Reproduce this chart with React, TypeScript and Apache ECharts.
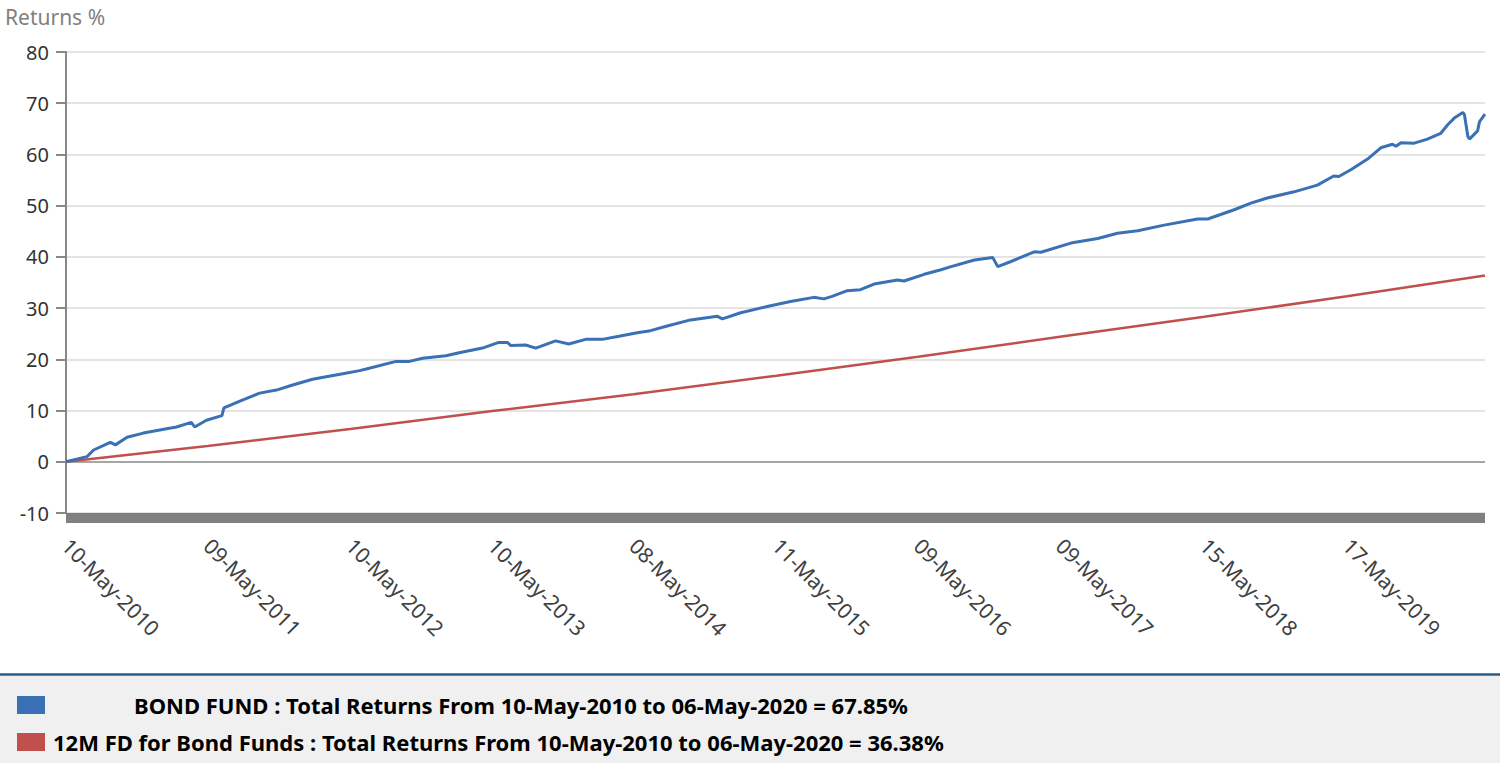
import React, { useEffect, useRef } from 'react';
import * as echarts from 'echarts';

const FONT = '"Noto Sans", "Open Sans", sans-serif';

// readings of the bond fund cumulative return (%)
const bondDates = [
  '2010-05-10', '2010-07-03', '2010-07-20', '2010-09-01', '2010-09-14', '2010-10-14', '2010-11-25',
  '2011-01-06', '2011-02-18', '2011-03-28', '2011-04-06', '2011-05-06', '2011-06-15', '2011-06-20',
  '2011-08-08', '2011-09-20', '2011-11-02', '2011-12-14', '2012-02-03', '2012-03-09', '2012-04-21',
  '2012-06-03', '2012-06-20', '2012-09-05', '2012-10-09', '2012-11-12', '2013-01-11', '2013-02-14',
  '2013-04-15', '2013-05-27', '2013-06-18', '2013-06-27', '2013-08-04', '2013-08-30', '2013-10-20',
  '2013-11-23', '2014-01-05', '2014-02-17', '2014-04-01', '2014-05-18', '2014-06-21', '2014-08-03',
  '2014-10-02', '2014-12-10', '2014-12-23', '2015-02-08', '2015-04-17', '2015-06-16', '2015-08-15',
  '2015-09-10', '2015-10-01', '2015-11-09', '2015-12-13', '2016-01-17', '2016-03-17', '2016-04-03',
  '2016-05-25', '2016-07-07', '2016-08-02', '2016-10-01', '2016-11-17', '2016-11-30', '2017-01-03',
  '2017-03-04', '2017-03-21', '2017-06-06', '2017-08-14', '2017-10-04', '2017-11-25', '2018-02-01',
  '2018-04-28', '2018-05-24', '2018-07-31', '2018-09-12', '2018-10-24', '2019-01-01', '2019-03-02',
  '2019-04-13', '2019-04-26', '2019-05-27', '2019-07-09', '2019-08-12', '2019-09-11', '2019-09-20',
  '2019-10-03', '2019-11-06', '2019-12-10', '2020-01-13', '2020-01-31', '2020-02-17', '2020-03-10',
  '2020-03-14', '2020-03-23', '2020-03-27', '2020-04-17', '2020-04-22', '2020-05-06',
];
const bondReturns = [
  0, 1.0, 2.3, 3.8, 3.3, 4.8, 5.6,
  6.2, 6.8, 7.7, 6.8, 8.1, 9.0, 10.5,
  12.1, 13.4, 14.0, 15.0, 16.1, 16.6, 17.2,
  17.8, 18.1, 19.6, 19.6, 20.2, 20.7, 21.3,
  22.2, 23.3, 23.3, 22.7, 22.8, 22.2, 23.6,
  23.0, 23.9, 23.9, 24.5, 25.2, 25.6, 26.5,
  27.7, 28.4, 27.9, 29.1, 30.3, 31.3, 32.1,
  31.8, 32.3, 33.4, 33.6, 34.7, 35.5, 35.3,
  36.6, 37.5, 38.1, 39.4, 39.9, 38.1, 39.1,
  41.0, 40.9, 42.7, 43.6, 44.6, 45.1, 46.2,
  47.4, 47.4, 49.2, 50.5, 51.5, 52.7, 54.0,
  55.8, 55.7, 57.0, 59.1, 61.3, 62.0, 61.6,
  62.3, 62.2, 63.0, 64.1, 65.8, 67.1, 68.2,
  67.8, 63.5, 63.0, 64.6, 66.4, 67.85,
];

const fdDates = [
  '2010-05-10', '2011-05-09', '2012-05-10', '2013-05-10', '2014-05-08', '2015-05-11',
  '2016-05-09', '2017-05-09', '2018-05-15', '2019-05-17', '2020-05-06',
];
const fdReturns = [0, 3.1, 6.4, 9.9, 13.2, 16.8, 20.5, 24.4, 28.3, 32.3, 36.38];

const tickDates = [
  '2010-05-10', '2011-05-09', '2012-05-10', '2013-05-10', '2014-05-08',
  '2015-05-11', '2016-05-09', '2017-05-09', '2018-05-15', '2019-05-17',
];

const seriesNames = ['BOND FUND', '12M FD for Bond Funds'];
const seriesColors = ['#3a70b4', '#c0504d'];
const totalReturns = ['67.85', '36.38'];
const periodStart = '10-May-2010';
const periodEnd = '06-May-2020';

const MONTHS = ['Jan', 'Feb', 'Mar', 'Apr', 'May', 'Jun', 'Jul', 'Aug', 'Sep', 'Oct', 'Nov', 'Dec'];

function toTime(s: string): number {
  const [y, m, d] = s.split('-').map(Number);
  return new Date(y, m - 1, d).getTime();
}

function fmtDate(v: number): string {
  const d = new Date(v);
  const dd = String(d.getDate()).padStart(2, '0');
  return `${dd}-${MONTHS[d.getMonth()]}-${d.getFullYear()}`;
}

export default function App() {
  const chartRef = useRef<HTMLDivElement | null>(null);

  useEffect(() => {
    if (!chartRef.current) return;
    const inst = echarts.init(chartRef.current, undefined, { renderer: 'svg' });
    inst.setOption({
      animation: false,
      backgroundColor: '#ffffff',
      textStyle: { fontFamily: FONT },
      title: {
        text: 'Returns %',
        left: 0,
        top: 1,
        textStyle: { fontFamily: FONT, fontSize: 21, fontWeight: 'normal', color: '#7f7f7f' },
      },
      grid: { left: 66, right: 15, top: 52, bottom: 250 },
      graphic: [
        {
          type: 'rect',
          shape: { x: 0, y: 676, width: 1500, height: 87 },
          style: { fill: '#f0f0f0' },
          silent: true,
          z: -1,
        },
        {
          type: 'line',
          shape: { x1: 0, y1: 674.5, x2: 1500, y2: 674.5 },
          style: { stroke: '#285a8c', lineWidth: 2.5 },
          silent: true,
        },
      ],
      legend: {
        orient: 'vertical',
        left: 17,
        top: 694,
        padding: 0,
        icon: 'rect',
        itemWidth: 28,
        itemHeight: 18,
        itemGap: 15,
        selectedMode: false,
        data: seriesNames.map((n, i) => ({
          name: n,
          textStyle: { padding: [0, 0, 0, i === 0 ? 84 : 3] },
        })),
        formatter: (name: string) => {
          const i = seriesNames.indexOf(name);
          return `${name} : Total Returns From ${periodStart} to ${periodEnd} = ${totalReturns[i]}%`;
        },
        textStyle: { fontFamily: FONT, fontSize: 22, fontWeight: 'bold', color: '#000', lineHeight: 18 },
      },
      xAxis: {
        type: 'value',
        min: toTime(bondDates[0]),
        max: toTime(bondDates[bondDates.length - 1]),
        offset: 5,
        axisLine: { show: true, onZero: false, lineStyle: { color: '#808080', width: 10, cap: 'butt' } },
        axisTick: { show: false },
        splitLine: { show: false },
        axisLabel: {
          customValues: tickDates.map(toTime),
          formatter: (v: number) => fmtDate(v),
          rotate: -45,
          margin: 24,
          fontSize: 21,
          color: '#404040',
          fontFamily: FONT,
        },
      },
      yAxis: {
        type: 'value',
        min: -10,
        max: 80,
        interval: 10,
        axisLine: { show: true, lineStyle: { color: '#888888', width: 2 } },
        axisTick: { show: true, length: 10, lineStyle: { color: '#888888', width: 2 } },
        axisLabel: { fontSize: 20, color: '#333333', margin: 17, fontFamily: FONT },
        splitLine: { lineStyle: { color: '#e4e4e4', width: 2 } },
      },
      series: [
        {
          name: seriesNames[0],
          type: 'line',
          data: bondDates.map((d, i) => [toTime(d), bondReturns[i]]),
          showSymbol: false,
          color: seriesColors[0],
          lineStyle: { width: 3, color: seriesColors[0] },
          z: 3,
          markLine: {
            silent: true,
            symbol: 'none',
            label: { show: false },
            lineStyle: { color: '#a6a6a6', width: 2, type: 'solid' },
            data: [{ yAxis: 0 }],
            z: 1,
          },
        },
        {
          name: seriesNames[1],
          type: 'line',
          data: fdDates.map((d, i) => [toTime(d), fdReturns[i]]),
          showSymbol: false,
          color: seriesColors[1],
          lineStyle: { width: 2.5, color: seriesColors[1] },
          z: 2,
        },
      ],
    });

    return () => {
      inst.dispose();
    };
  }, []);

  return (
    <div
      ref={chartRef}
      style={{ position: 'fixed', left: 0, top: 0, width: 1500, height: 763 }}
    />
  );
}
